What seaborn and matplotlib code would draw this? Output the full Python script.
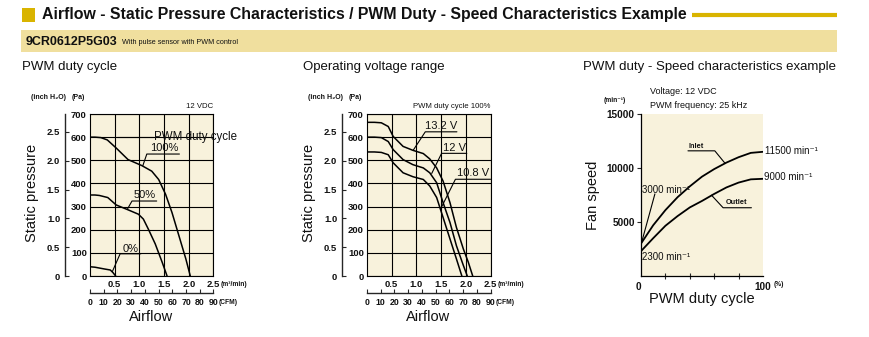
import numpy as np
import pandas as pd
import matplotlib
matplotlib.use("Agg")
import matplotlib.pyplot as plt
import seaborn as sns
from matplotlib.patches import Rectangle
from matplotlib.lines import Line2D

# ---------------- data ----------------
# Panel 1: PWM duty cycle curves (airflow m3/min, static pressure Pa)
duty100_q = [0, 0.10, 0.22, 0.35, 0.53, 0.77, 1.05, 1.25, 1.39, 1.53, 1.66, 1.80, 1.94, 2.03]
duty100_p = [600, 600, 598, 588, 553, 503, 477, 453, 417, 353, 274, 174, 74, 0]
duty50_q = [0, 0.10, 0.19, 0.36, 0.53, 0.77, 0.98, 1.08, 1.18, 1.32, 1.46, 1.56]
duty50_p = [350, 350, 348, 339, 307, 286, 267, 246, 203, 139, 60, 0]
duty0_q = [0, 0.10, 0.20, 0.30, 0.41, 0.46, 0.52]
duty0_p = [40, 38, 34, 30, 26, 16, 0]

# Panel 2: operating voltage range
v132_q = [0, 0.15, 0.29, 0.43, 0.53, 0.73, 0.93, 1.14, 1.27, 1.41, 1.54, 1.68, 1.81, 1.95, 2.05, 2.14]
v132_p = [664, 664, 662, 646, 603, 560, 543, 529, 506, 467, 410, 317, 210, 117, 60, 0]
v12_q = [0, 0.15, 0.29, 0.43, 0.53, 0.73, 0.93, 1.14, 1.27, 1.41, 1.54, 1.68, 1.81, 1.95, 2.03]
v12_p = [600, 600, 598, 581, 546, 503, 481, 467, 446, 403, 317, 231, 131, 46, 0]
v108_q = [0, 0.15, 0.29, 0.43, 0.53, 0.73, 0.93, 1.14, 1.27, 1.41, 1.54, 1.68, 1.81, 1.92]
v108_p = [536, 536, 534, 524, 489, 446, 429, 417, 389, 339, 253, 160, 74, 0]

# Panel 3: PWM duty - speed
duty_pct = [0, 10, 20, 30, 40, 50, 60, 70, 80, 90, 100]
inlet_speed = [3000, 4700, 6100, 7300, 8300, 9200, 9900, 10500, 11000, 11400, 11500]
outlet_speed = [2300, 3500, 4650, 5550, 6350, 6950, 7600, 8200, 8650, 8950, 9000]

pa_ticks = [0, 100, 200, 300, 400, 500, 600, 700]
inch_ticks = [0, 0.5, 1.0, 1.5, 2.0, 2.5]
m3_ticks = [0.5, 1.0, 1.5, 2.0, 2.5]
cfm_ticks = [0, 10, 20, 30, 40, 50, 60, 70, 80, 90]
speed_ticks = [5000, 10000, 15000]

# ---------------- style ----------------
sns.set_theme(style="white")
NARROW = ["Liberation Sans Narrow", "Liberation Sans", "DejaVu Sans"]
SANS = ["Liberation Sans", "DejaVu Sans"]
plt.rcParams["font.family"] = SANS
CREAM = "#F8F2DC"
GOLD = "#D9B400"
BAND = "#F0DF9E"
INK = "#111111"

W, H = 869, 337
fig = plt.figure(figsize=(W / 100, H / 100), dpi=100)
fig.patch.set_facecolor("white")


def fx(x):
    return x / W


def fy(y):
    return 1 - y / H


def ftext(x, y, s, **kw):
    kw.setdefault("va", "center")
    kw.setdefault("color", INK)
    return fig.text(fx(x), fy(y), s, **kw)


# ---------------- header ----------------
fig.patches.append(Rectangle((fx(21.5), fy(21.7)), 13.5 / W, 13.4 / H,
                             transform=fig.transFigure, color=GOLD, lw=0))
title = ftext(41.5, 15, "Airflow - Static Pressure Characteristics / PWM Duty - Speed Characteristics Example",
              fontsize=12, fontweight="bold", family=NARROW)
fig.add_artist(Line2D([fx(691.7), fx(836.7)], [fy(15.3)] * 2, lw=3, color=GOLD,
                      transform=fig.transFigure, solid_capstyle="butt"))
fig.patches.append(Rectangle((fx(20.7), fy(51.5)), (836.7 - 20.7) / W, 21 / H,
                             transform=fig.transFigure, color=BAND, lw=0))
ftext(25.5, 42, "9CR0612P5G03", fontsize=9, fontweight="bold", family=NARROW)
ftext(121.5, 42.5, "With pulse sensor with PWM control", fontsize=5.2, family=NARROW)

# fit title width to target
fig.canvas.draw()
r = fig.canvas.get_renderer()
bb = title.get_window_extent(r)
title.set_fontsize(12 * (681.7 - 41.5) / bb.width)

ftext(21.5, 67, "PWM duty cycle", fontsize=9.5, family=SANS)
ftext(303, 67, "Operating voltage range", fontsize=9.5, family=SANS)
ftext(583, 67, "PWM duty - Speed characteristics example", fontsize=9.5, family=SANS)

TICKFS = 6.8
CFMFS = 6.3
ANNFS = 8


def boldify(labels):
    for lab in labels:
        lab.set_fontfamily(NARROW)
        lab.set_fontweight("bold")
        lab.set_color(INK)


def pq_axes(left, series, cond_text):
    ax = fig.add_axes([fx(left), fy(276), 123.5 / W, 162 / H])
    ax.set_facecolor(CREAM)
    frames = []
    for name, (q, p) in series.items():
        frames.append(pd.DataFrame({"q": q, "p": p, "curve": name}))
    df = pd.concat(frames, ignore_index=True)
    sns.lineplot(data=df, x="q", y="p", units="curve", estimator=None, sort=False,
                 color="black", lw=1.1, ax=ax, legend=False, zorder=3)
    ax.set_xlim(0, 2.5)
    ax.set_ylim(0, 700)
    ax.set_xticks(m3_ticks)
    ax.set_xticklabels([f"{t:.1f}" for t in m3_ticks])
    ax.set_yticks(pa_ticks)
    ax.set_yticklabels([str(t) for t in pa_ticks])
    ax.grid(True, color="black", lw=0.8)
    ax.tick_params(length=0, labelsize=TICKFS, pad=2.3)
    ax.tick_params(axis="x", pad=3)
    boldify(ax.get_xticklabels() + ax.get_yticklabels())
    for s in ax.spines.values():
        s.set_color("black")
        s.set_linewidth(0.8)
    ax.set_xlabel("")
    ax.set_ylabel("")

    # inch H2O axis
    sy = ax.secondary_yaxis(-25.0 / 123.5, functions=(lambda p: p / 249.09, lambda h: h * 249.09))
    sy.set_yticks(inch_ticks)
    sy.set_yticklabels(["0"] + [f"{t:.1f}" for t in inch_ticks[1:]])
    sy.tick_params(direction="in", length=3, width=0.8, labelsize=TICKFS, pad=3.5)
    sy.spines["left"].set_linewidth(1.0)
    boldify(sy.get_yticklabels())

    # CFM axis
    sx = ax.secondary_xaxis(-17.0 / 162, functions=(lambda m: m * 36.0, lambda c: c / 36.0))
    sx.set_xticks(cfm_ticks)
    sx.set_xticklabels([str(t) for t in cfm_ticks])
    sx.tick_params(direction="in", length=3, width=0.8, labelsize=CFMFS, pad=3.5)
    sx.spines["bottom"].set_linewidth(1.0)
    boldify(sx.get_xticklabels())

    off = left - 90
    ftext(220.5 + off, 284, "(m³/min)", fontsize=4.8, family=NARROW, fontweight="bold")
    ftext(219 + off, 302.5, "(CFM)", fontsize=4.8, family=NARROW, fontweight="bold")
    ftext(30.7 + off, 97.5, "(inch H₂O)", fontsize=5.0, family=NARROW, fontweight="bold")
    ftext(71.7 + off, 97.5, "(Pa)", fontsize=5.0, family=NARROW, fontweight="bold")
    ftext(213.5 + off, 106, cond_text, fontsize=5.6, family=SANS, ha="right")
    ftext(31.7 + off, 193, "Static pressure", fontsize=10.5, family=SANS, rotation=90, ha="center")
    ftext(151.5 + off, 317, "Airflow", fontsize=10.5, family=SANS, ha="center")
    return ax


def leader(ax, pts):
    xs, ys = zip(*pts)
    ax.plot(xs, ys, color="black", lw=0.8, clip_on=False, zorder=4)


# ---------------- panel 1 ----------------
ax1 = pq_axes(90, {"100%": (duty100_q, duty100_p), "50%": (duty50_q, duty50_p),
                   "0%": (duty0_q, duty0_p)}, "12 VDC")
leader(ax1, [(0.54, 600), (1.28, 600)])
ax1.text(1.30, 600, "PWM duty cycle", fontsize=8.3, va="center", ha="left", clip_on=False, zorder=5, color=INK)
leader(ax1, [(1.07, 477), (1.15, 527), (1.81, 527)])
ax1.text(1.50, 553, "100%", fontsize=ANNFS, va="center", ha="center", zorder=5, color=INK)
leader(ax1, [(0.76, 290), (0.85, 324), (1.35, 324)])
ax1.text(1.11, 348, "50%", fontsize=ANNFS, va="center", ha="center", zorder=5, color=INK)
leader(ax1, [(0.45, 18), (0.61, 96), (1.03, 96)])
ax1.text(0.82, 118, "0%", fontsize=ANNFS, va="center", ha="center", zorder=5, color=INK)

# ---------------- panel 2 ----------------
ax2 = pq_axes(367, {"13.2 V": (v132_q, v132_p), "12 V": (v12_q, v12_p),
                    "10.8 V": (v108_q, v108_p)}, "PWM duty cycle 100%")
leader(ax2, [(0.94, 545), (1.18, 623), (1.82, 623)])
ax2.text(1.51, 648, "13.2 V", fontsize=ANNFS, va="center", ha="center", zorder=5, color=INK)
leader(ax2, [(1.31, 443), (1.51, 530), (2.02, 530)])
ax2.text(1.77, 553, "12 V", fontsize=ANNFS, va="center", ha="center", zorder=5, color=INK)
leader(ax2, [(1.49, 290), (1.79, 418), (2.50, 418)])
ax2.text(2.14, 443, "10.8 V", fontsize=ANNFS, va="center", ha="center", zorder=5, clip_on=False, color=INK)

# ---------------- panel 3 ----------------
ax3 = fig.add_axes([fx(641), fy(276), 122 / W, 162 / H])
ax3.set_facecolor(CREAM)
df3 = pd.concat([pd.DataFrame({"duty": duty_pct, "speed": inlet_speed, "side": "Inlet"}),
                 pd.DataFrame({"duty": duty_pct, "speed": outlet_speed, "side": "Outlet"})],
                ignore_index=True)
sns.lineplot(data=df3, x="duty", y="speed", units="side", estimator=None, sort=False,
             color="black", lw=1.3, ax=ax3, legend=False, zorder=3)
ax3.set_xlim(0, 100)
ax3.set_ylim(0, 15000)
ax3.set_xticks([0, 100])
ax3.set_xticklabels(["0", "100"])
ax3.set_xticks([20, 40, 60, 80], minor=True)
ax3.set_yticks(speed_ticks)
ax3.set_yticklabels([str(t) for t in speed_ticks])
ax3.tick_params(axis="x", which="major", length=0, labelsize=7.2, pad=4)
ax3.tick_params(axis="x", which="minor", direction="inout", length=4, width=0.8, bottom=True)
ax3.tick_params(axis="y", direction="out", length=3, width=0.8, labelsize=7.2, pad=1.5, left=True)
boldify(ax3.get_xticklabels() + ax3.get_yticklabels())
ax3.get_xticklabels()[0].set_ha("right")
for side in ["top", "right"]:
    ax3.spines[side].set_visible(False)
for side in ["left", "bottom"]:
    ax3.spines[side].set_color("black")
    ax3.spines[side].set_linewidth(0.9)
ax3.set_xlabel("")
ax3.set_ylabel("")

leader(ax3, [(69, 10420), (60.5, 11590), (38.5, 11590)])
ax3.text(45.5, 12000, "Inlet", fontsize=5.3, fontweight="bold", family=NARROW, ha="center", va="center", color=INK)
leader(ax3, [(57.8, 7480), (67.3, 6320), (90.5, 6320)])
ax3.text(78, 6840, "Outlet", fontsize=5.3, fontweight="bold", family=NARROW, ha="center", va="center", color=INK)
leader(ax3, [(0.6, 3150), (11.4, 7600)])
ax3.text(0.5, 8000, "3000 min⁻¹", fontsize=7, family=NARROW, ha="left", va="center", zorder=5, color=INK)
ax3.text(1.2, 1800, "2300 min⁻¹", fontsize=7, family=NARROW, ha="left", va="center", zorder=5, color=INK)
ax3.text(101.5, 11600, "11500 min⁻¹", fontsize=7, family=NARROW, ha="left", va="center", clip_on=False, color=INK)
ax3.text(101.0, 9130, "9000 min⁻¹", fontsize=7, family=NARROW, ha="left", va="center", clip_on=False, color=INK)

ftext(650, 92, "Voltage: 12 VDC", fontsize=6.5, family=SANS)
ftext(650, 105.5, "PWM frequency: 25 kHz", fontsize=6.5, family=SANS)
ftext(615, 100.5, "(min⁻¹)", fontsize=4.8, family=NARROW, fontweight="bold", ha="center")
ftext(774, 285, "(%)", fontsize=4.8, family=NARROW, fontweight="bold")
ftext(593, 195, "Fan speed", fontsize=10.5, family=SANS, rotation=90, ha="center")
ftext(701.5, 298.5, "PWM duty cycle", fontsize=10.5, family=SANS, ha="center")

fig.savefig("out.png", dpi=100)
